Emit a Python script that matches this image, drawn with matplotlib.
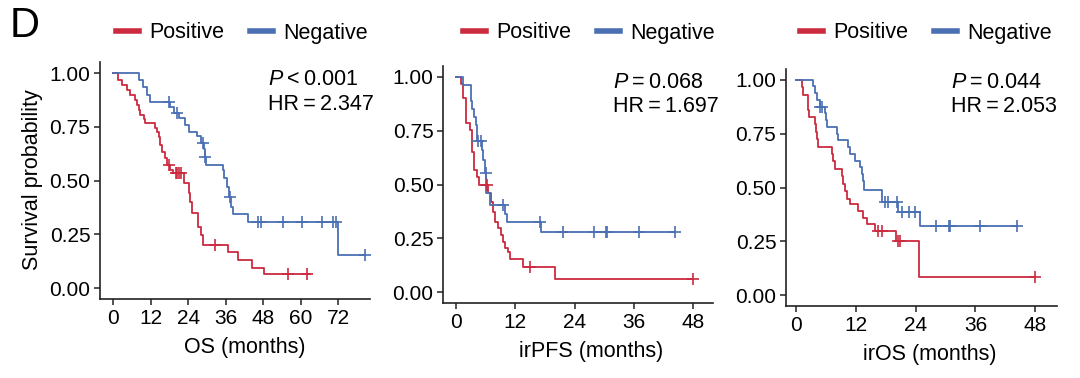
import numpy as np
import matplotlib
matplotlib.use('Agg')
import matplotlib.pyplot as plt
from matplotlib.lines import Line2D

plt.rcParams['font.family'] = ['Liberation Sans', 'DejaVu Sans']
plt.rcParams['mathtext.fontset'] = 'custom'
plt.rcParams['mathtext.rm'] = 'Liberation Sans'
plt.rcParams['mathtext.it'] = 'Liberation Sans:italic'

RED = '#CC2A3F'
BLUE = '#4A6FB3'

# ---------------- data ----------------
groups = ['Positive', 'Negative']

# OS
os_pos_t = [0, 1.7, 2.8, 4.4, 5.5, 7.1, 7.6, 8.2, 8.7, 9.8, 10.3, 13.5, 14.0, 14.6, 15.1,
            15.6, 16.5, 17.3, 18.3, 19.2, 22.5, 24.1, 24.6, 25.2, 27.2, 28.2, 28.7,
            36.8, 40.0, 44.3, 48.3]
os_pos_s = [1.0, 0.967, 0.944, 0.921, 0.898, 0.874, 0.851, 0.828, 0.805, 0.786, 0.766,
            0.745, 0.727, 0.704, 0.665, 0.634, 0.603, 0.572, 0.549, 0.533, 0.49, 0.44,
            0.40, 0.347, 0.285, 0.246, 0.2, 0.169, 0.13, 0.095, 0.065]
os_pos_end = 63.0
os_pos_cens = [17.8, 20.0, 20.5, 21.0, 21.6, 32.6, 56.0, 62.0]

os_neg_t = [0, 8.4, 9.5, 10.8, 11.8, 18.2, 19.5, 21.2, 23.0, 24.4, 26.7, 28.0, 29.0,
            29.3, 29.7, 35.0, 35.5, 36.5, 37.0, 37.8, 38.3, 43.0, 72.0]
os_neg_s = [1.0, 0.967, 0.933, 0.90, 0.867, 0.843, 0.815, 0.789, 0.758, 0.727, 0.705,
            0.676, 0.645, 0.61, 0.572, 0.549, 0.51, 0.468, 0.425, 0.378, 0.344, 0.308,
            0.155]
os_neg_end = 80.5
os_neg_cens = [17.7, 20.5, 28.6, 29.5, 37.4, 46.4, 47.3, 54.4, 60.3, 66.7, 70.2, 71.3, 80.5]

# irPFS
pfs_pos_t = [0, 1.0, 1.5, 2.15, 2.8, 3.2, 3.7, 4.4, 4.8, 6.5, 7.1, 7.5, 8.0, 8.5, 9.1,
             9.6, 10.0, 10.6, 10.9, 13.6, 20.1]
pfs_pos_s = [1.0, 0.967, 0.9, 0.784, 0.753, 0.652, 0.567, 0.536, 0.5, 0.459, 0.42, 0.374,
             0.327, 0.297, 0.265, 0.234, 0.204, 0.188, 0.152, 0.118, 0.061]
pfs_pos_end = 48.0
pfs_pos_cens = [6.3, 15.0, 48.0]

pfs_neg_t = [0, 1.5, 3.0, 3.3, 3.7, 4.2, 4.4, 5.4, 5.6, 5.9, 6.2, 6.9, 9.9, 10.3, 17.2]
pfs_neg_s = [1.0, 0.963, 0.889, 0.852, 0.815, 0.778, 0.704, 0.66, 0.616, 0.552, 0.459,
             0.405, 0.365, 0.324, 0.278]
pfs_neg_end = 44.3
pfs_neg_cens = [4.6, 5.2, 6.05, 9.6, 17.0, 21.7, 27.9, 30.3, 30.5, 37.0, 44.3]

# irOS
ios_pos_t = [0, 1.3, 1.5, 2.5, 2.6, 3.8, 4.0, 4.2, 4.5, 7.2, 7.5, 7.8, 9.2, 9.5, 9.8,
             10.2, 10.8, 12.5, 13.5, 14.3, 15.8, 20.0, 24.6]
ios_pos_s = [1.0, 0.966, 0.931, 0.862, 0.828, 0.793, 0.759, 0.724, 0.69, 0.655, 0.621,
             0.586, 0.552, 0.517, 0.483, 0.448, 0.424, 0.39, 0.36, 0.33, 0.297, 0.25,
             0.085]
ios_pos_end = 48.0
ios_pos_cens = [16.5, 17.3, 20.5, 20.8, 48.0]

ios_neg_t = [0, 3.5, 3.9, 4.3, 4.8, 5.8, 6.1, 6.3, 8.2, 8.4, 10.5, 10.8, 11.8, 12.9,
             13.2, 13.4, 13.6, 17.2, 20.5, 24.9]
ios_neg_s = [1.0, 0.969, 0.938, 0.906, 0.875, 0.844, 0.812, 0.781, 0.75, 0.719, 0.688,
             0.656, 0.625, 0.594, 0.562, 0.531, 0.49, 0.435, 0.388, 0.32]
ios_neg_end = 44.3
ios_neg_cens = [4.9, 5.3, 17.9, 18.4, 20.3, 21.2, 22.6, 23.9, 28.0, 30.6, 30.9, 37.0, 44.3]

panels = [
    dict(xlabel='OS (months)', xticks=[0, 12, 24, 36, 48, 60, 72], xlim=(-4.2, 82.1),
         pval=r'$\it{P}$' + '\u2009<\u20090.001', hr='HR\u2009=\u20092.347',
         pos=(os_pos_t, os_pos_s, os_pos_end, os_pos_cens),
         neg=(os_neg_t, os_neg_s, os_neg_end, os_neg_cens)),
    dict(xlabel='irPFS (months)', xticks=[0, 12, 24, 36, 48], xlim=(-2.5, 52.0),
         pval=r'$\it{P}$' + '\u2009=\u20090.068', hr='HR\u2009=\u20091.697',
         pos=(pfs_pos_t, pfs_pos_s, pfs_pos_end, pfs_pos_cens),
         neg=(pfs_neg_t, pfs_neg_s, pfs_neg_end, pfs_neg_cens)),
    dict(xlabel='irOS (months)', xticks=[0, 12, 24, 36, 48], xlim=(-2.0, 52.3),
         pval=r'$\it{P}$' + '\u2009=\u20090.044', hr='HR\u2009=\u20092.053',
         pos=(ios_pos_t, ios_pos_s, ios_pos_end, ios_pos_cens),
         neg=(ios_neg_t, ios_neg_s, ios_neg_end, ios_neg_cens)),
]
yticks = [0.0, 0.25, 0.5, 0.75, 1.0]

# ---------------- layout (pixels) ----------------
W, H = 1080, 378
fig = plt.figure(figsize=(W / 100, H / 100), dpi=100)
boxes = [(100, 370, 62.3, 298.8), (443.3, 713.3, 66.0, 303.0), (786, 1056.7, 69.0, 306.0)]
legend_cx = [242, 589, 926]
xlabel_cx = [245, 591, 929.5]
text_x = [268, 613, 951]
text_y1 = [85, 88, 88]
text_y2 = [110, 112, 112]

FS = 15


def draw_km(ax, t, s, end, cens, color):
    tt = list(t) + [end]
    ss = list(s) + [s[-1]]
    ax.step(tt, ss, where='post', color=color, lw=1.3, zorder=3)
    ta = np.asarray(t)
    sa = np.asarray(s)
    idx = np.searchsorted(ta, np.asarray(cens), side='right') - 1
    ax.plot(cens, sa[idx], linestyle='none', marker='+', color=color,
            markersize=8, mew=1.2, zorder=4)


for i, p in enumerate(panels):
    l, r, top, bot = boxes[i]
    ax = fig.add_axes([l / W, 1 - bot / H, (r - l) / W, (bot - top) / H])
    draw_km(ax, *p['pos'], RED)
    draw_km(ax, *p['neg'], BLUE)
    ax.set_xlim(*p['xlim'])
    ax.set_ylim(-0.05, 1.05)
    ax.set_xticks(p['xticks'])
    ax.set_yticks(yticks)
    ax.set_yticklabels(['%.2f' % v for v in yticks])
    for sp in ['top', 'right']:
        ax.spines[sp].set_visible(False)
    for sp in ['left', 'bottom']:
        ax.spines[sp].set_linewidth(1.2)
        ax.spines[sp].set_color('#222222')
    ax.tick_params(axis='both', length=4, width=1.1, color='#222222',
                   labelsize=FS, labelcolor='black', pad=3)
    ax.set_xlabel(p['xlabel'], fontsize=FS + 0.5)
    ax.xaxis.label.set_verticalalignment('top')
    ax.xaxis.set_label_coords((xlabel_cx[i] - l) / (r - l), -(337 - 298.8) / (bot - top))
    if i == 0:
        ax.set_ylabel('Survival probability', fontsize=FS + 0.5)
        ax.yaxis.set_label_coords((32 - l) / (r - l), (bot - 180) / (bot - top))
        ax.yaxis.label.set_verticalalignment('center')

    fig.text(text_x[i] / W, 1 - text_y1[i] / H, p['pval'], fontsize=15.5,
             ha='left', va='baseline')
    fig.text(text_x[i] / W, 1 - text_y2[i] / H, p['hr'], fontsize=15.5,
             ha='left', va='baseline')

    handles = [Line2D([], [], color=RED, lw=4), Line2D([], [], color=BLUE, lw=4)]
    fig.legend(handles, groups, loc='center', bbox_to_anchor=(legend_cx[i] / W, 1 - 33 / H),
               ncol=2, frameon=False, fontsize=FS + 0.5, handlelength=1.05,
               handletextpad=0.5, columnspacing=1.2, borderaxespad=0, borderpad=0)

fig.text(10 / W, 1 - 37 / H, 'D', fontsize=30, ha='left', va='baseline')

fig.savefig('out.png', dpi=100)
